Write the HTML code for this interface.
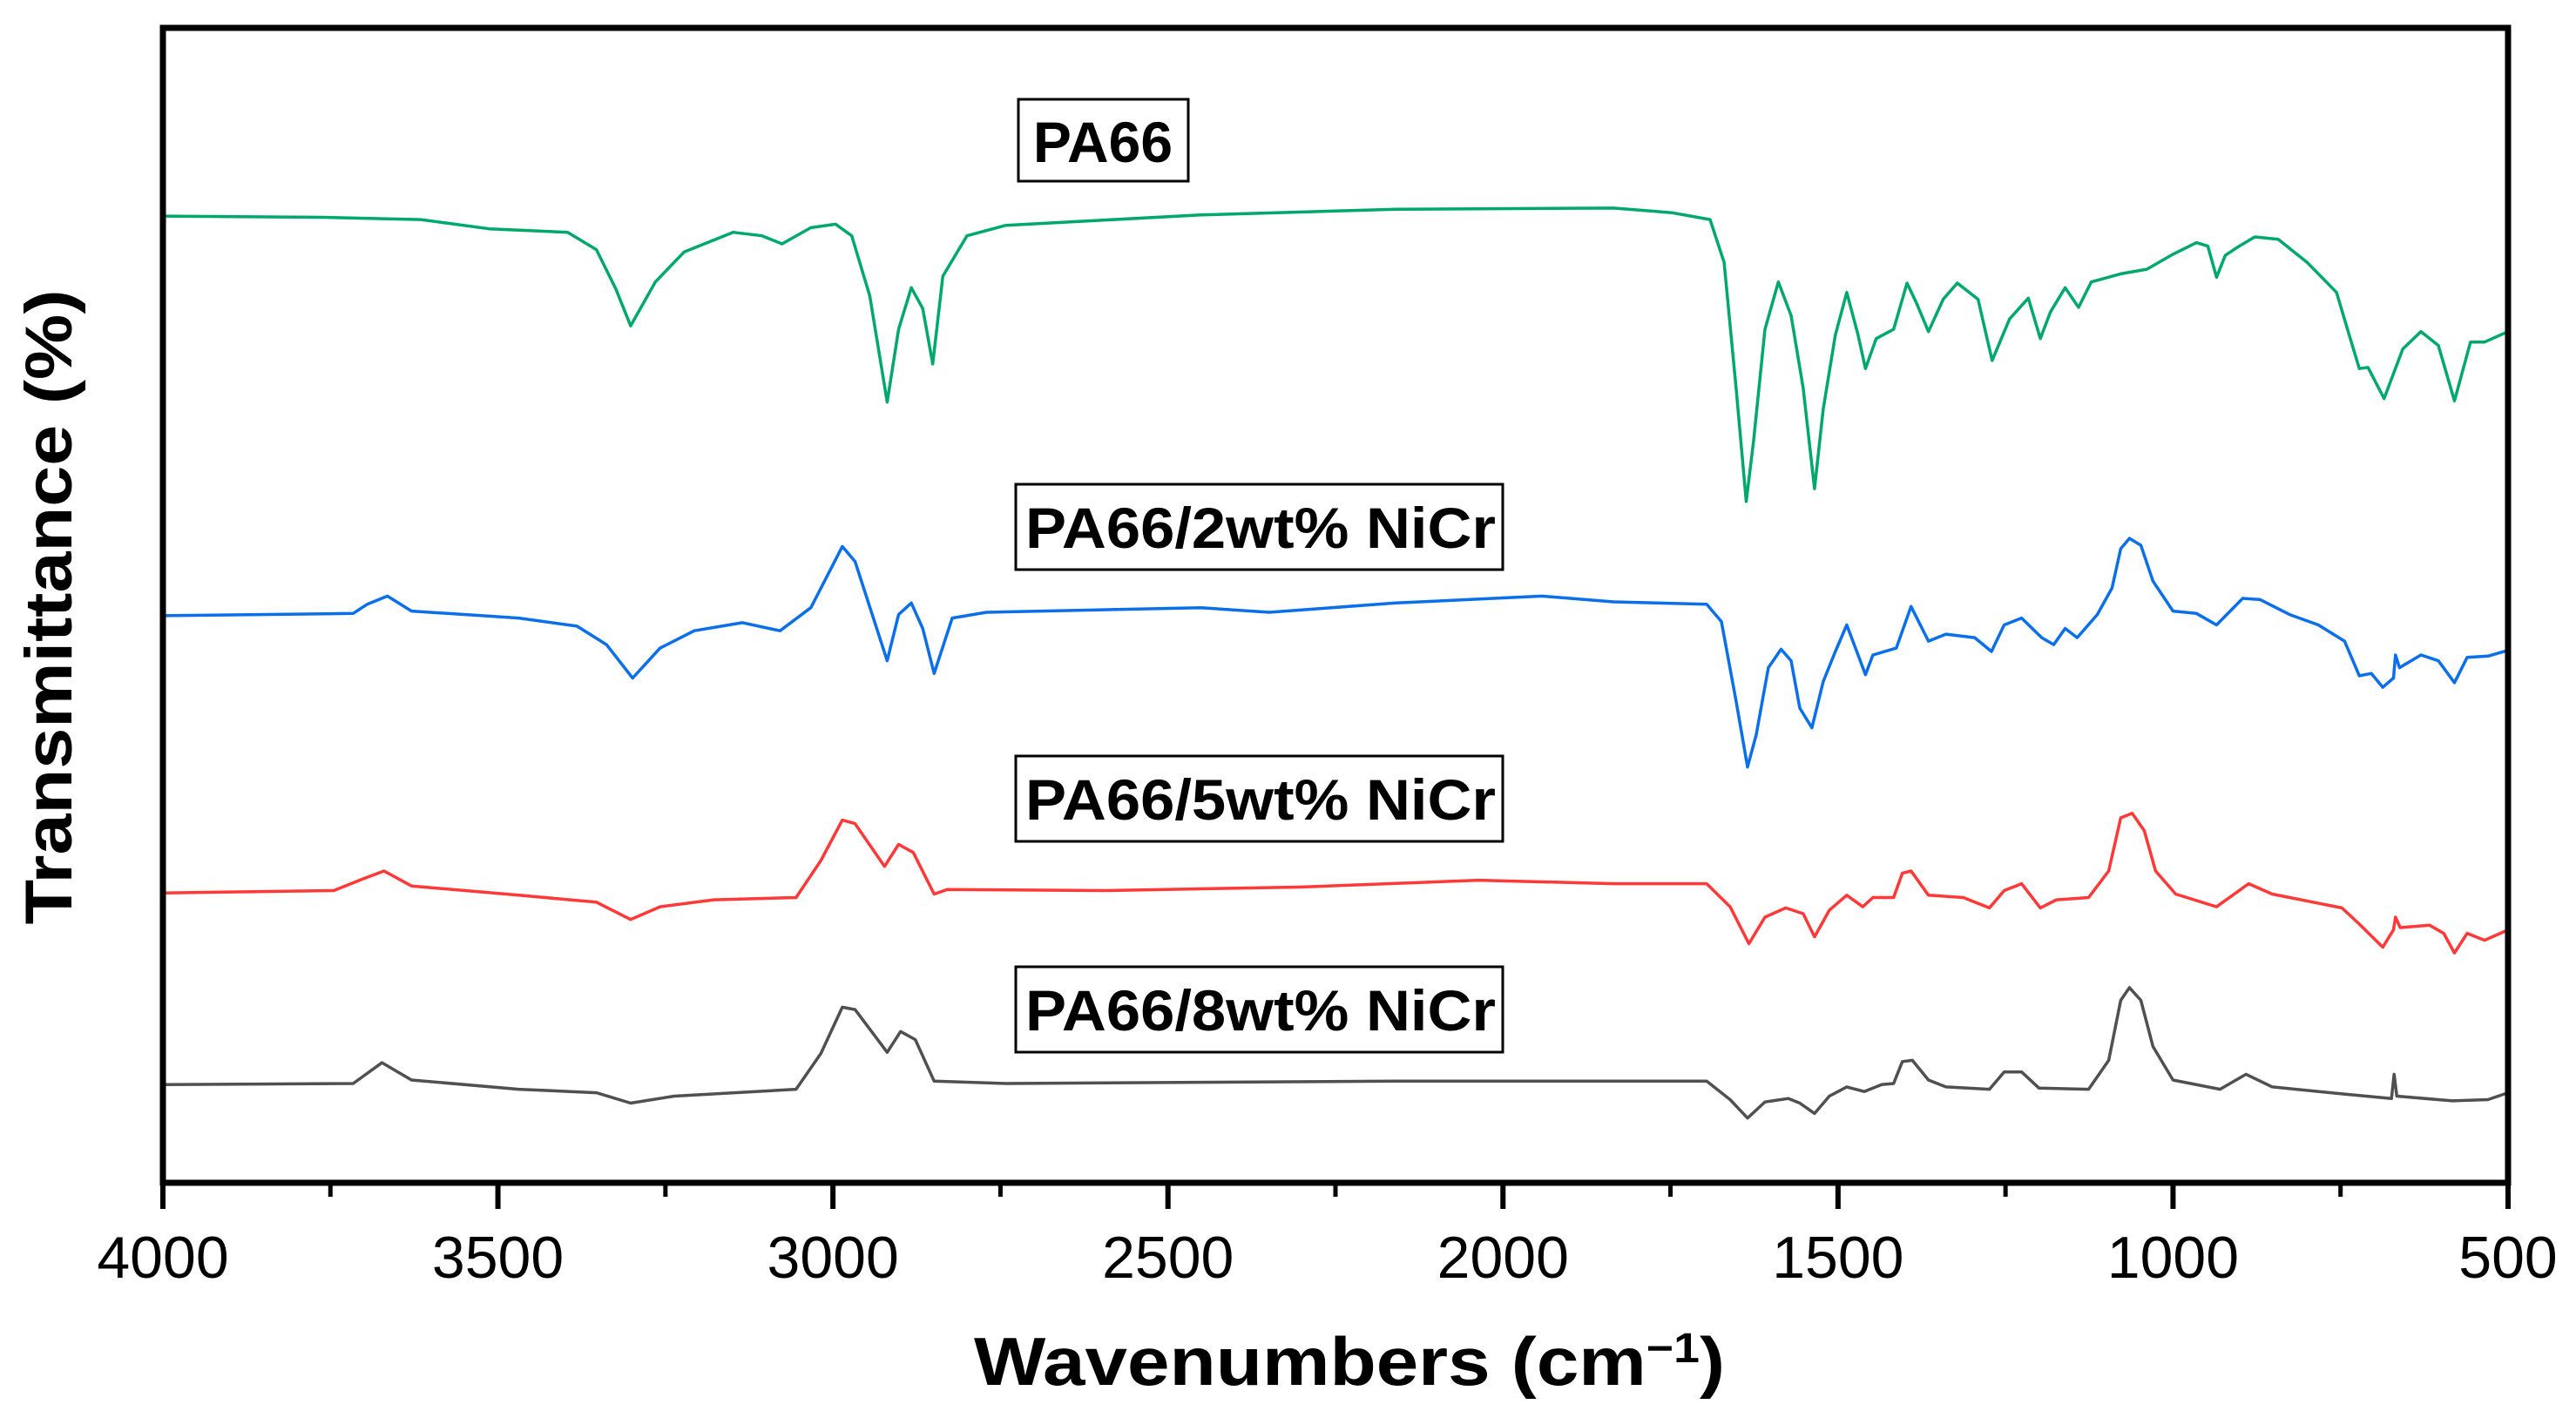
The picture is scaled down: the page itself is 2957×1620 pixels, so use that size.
<!DOCTYPE html>
<html><head><meta charset="utf-8"><style>
html,body{margin:0;padding:0;background:#fff;}
svg{display:block;}
text{font-family:"Liberation Sans",Arial,sans-serif;}
</style></head><body>
<svg id="chart" width="2957" height="1620" viewBox="0 0 2957 1620" xmlns="http://www.w3.org/2000/svg">
<rect x="0" y="0" width="2957" height="1620" fill="#fff"/>
<g id="series"></g>
<g id="axes"></g>
<g>
<rect x="1169" y="114" width="195" height="94" fill="#fff" stroke="#000" stroke-width="3"/>
<text x="1266" y="186" font-size="66" font-weight="bold" text-anchor="middle">PA66</text></g>
<g>
<rect x="1166" y="556" width="559" height="98" fill="#fff" stroke="#000" stroke-width="3"/>
<text x="1177" y="629" font-size="66" font-weight="bold" textLength="540" lengthAdjust="spacingAndGlyphs">PA66/2wt% NiCr</text></g>
<g>
<rect x="1166" y="868" width="559" height="98" fill="#fff" stroke="#000" stroke-width="3"/>
<text x="1177" y="941" font-size="66" font-weight="bold" textLength="540" lengthAdjust="spacingAndGlyphs">PA66/5wt% NiCr</text></g>
<g>
<rect x="1166" y="1110" width="559" height="98" fill="#fff" stroke="#000" stroke-width="3"/>
<text x="1177" y="1183" font-size="66" font-weight="bold" textLength="540" lengthAdjust="spacingAndGlyphs">PA66/8wt% NiCr</text></g>
<text x="1118" y="1590" font-size="78" font-weight="bold" textLength="862" lengthAdjust="spacingAndGlyphs">Wavenumbers (cm<tspan baseline-shift="super" font-size="48">−1</tspan>)</text>
<text transform="translate(82,697) rotate(-90)" font-size="76" font-weight="bold" text-anchor="middle" textLength="729" lengthAdjust="spacingAndGlyphs">Transmittance (%)</text>
</svg>
<script>
const xTicks = [4000,3500,3000,2500,2000,1500,1000,500];
const xMinorTicks = [3750,3250,2750,2250,1750,1250,750];
const wnPA66 = [4000,3760,3615,3513,3396,3353,3324,3302,3265,3222,3149,3106,3076,3033,2996,2972,2945,2919,2902,2883,2866,2851,2836,2800,2742,2451,2160,1835,1748,1691,1670,1652,1637,1626,1609,1589,1570,1552,1535,1522,1504,1487,1470,1459,1443,1417,1397,1383,1365,1343,1322,1291,1270,1244,1216,1198,1183,1161,1141,1122,1078,1039,1000,965,948,935,922,904,878,843,800,756,737,722,709,685,657,630,604,580,556,535,500];
const tPA66 = [83.7,83.6,83.4,82.6,82.3,80.8,77.4,74.2,78.0,80.6,82.3,82.0,81.3,82.7,83.0,82.0,76.8,67.6,73.9,77.5,75.7,70.9,78.5,82.0,82.9,83.8,84.3,84.4,84.0,83.4,79.7,68.8,59.0,64.2,73.9,78.0,75.1,68.8,60.1,67.0,73.4,77.1,73.4,70.5,73.1,73.9,77.9,76.2,73.7,76.5,77.9,76.5,71.2,74.8,76.6,73.1,75.4,77.5,75.8,78.0,78.7,79.1,80.4,81.4,81.1,78.4,80.3,81.0,81.9,81.7,79.7,77.1,73.4,70.5,70.6,67.9,72.2,73.7,72.5,67.7,72.8,72.8,73.7];
const wn2wt = [4000,3716,3695,3665,3629,3469,3382,3338,3299,3258,3207,3135,3079,3033,2986,2967,2919,2902,2883,2866,2849,2822,2771,2451,2349,2160,1942,1835,1696,1674,1652,1635,1622,1604,1585,1570,1557,1539,1522,1504,1487,1470,1459,1448,1413,1391,1365,1339,1296,1271,1252,1226,1196,1178,1161,1143,1113,1091,1078,1065,1048,1030,1000,965,935,896,870,826,783,744,722,704,687,671,668,662,630,604,580,561,530,500];
const t2wt = [49.1,49.3,50.1,50.8,49.5,48.9,48.2,46.6,43.7,46.3,47.8,48.5,47.8,49.8,55.1,53.8,45.2,49.2,50.2,48.0,44.1,48.9,49.4,49.8,49.4,50.2,50.8,50.3,50.1,48.6,41.7,36.0,38.8,44.6,46.2,45.2,41.1,39.4,43.4,46.0,48.3,45.7,44.0,45.7,46.3,49.9,46.9,47.5,47.2,46.0,48.3,48.9,47.2,46.6,48.0,47.2,49.2,51.5,54.9,55.8,55.2,52.1,49.5,49.3,48.3,50.6,50.5,49.2,48.3,46.9,43.9,44.1,42.9,43.7,45.7,44.6,45.7,45.2,43.3,45.5,45.6,46.1];
const wn5wt = [4000,3745,3702,3670,3629,3469,3353,3302,3258,3178,3055,3018,2986,2967,2923,2902,2880,2849,2829,2596,2305,2036,1835,1696,1661,1633,1609,1578,1552,1535,1513,1487,1463,1448,1417,1404,1391,1365,1313,1274,1252,1226,1198,1174,1126,1096,1078,1061,1043,1026,996,935,887,852,748,722,687,671,668,661,617,596,580,561,535,500];
const t5wt = [25.1,25.3,26.3,27.0,25.7,24.9,24.3,22.8,23.9,24.5,24.7,27.9,31.4,31.1,27.4,29.3,28.6,25.0,25.4,25.3,25.6,26.2,25.9,25.9,23.9,20.7,23.0,23.8,23.3,21.3,23.6,24.9,23.9,24.7,24.7,26.8,27.0,24.9,24.7,23.8,25.3,25.9,23.8,24.5,24.7,27.0,31.6,32.0,30.5,27.0,25.0,23.9,25.9,25.0,23.8,22.4,20.4,21.9,23.0,22.1,22.3,21.6,19.9,21.6,21.0,21.9];
const wn8wt = [4000,3716,3673,3629,3469,3353,3302,3237,3055,3018,2986,2967,2919,2899,2877,2849,2742,2160,1835,1696,1661,1635,1609,1574,1557,1535,1513,1487,1461,1435,1417,1404,1389,1365,1339,1274,1252,1226,1200,1126,1096,1078,1065,1048,1030,1000,930,891,852,748,674,670,666,583,530,500];
const t8wt = [8.5,8.6,10.4,8.9,8.1,7.8,6.9,7.5,8.1,11.2,15.2,15.0,11.3,13.1,12.4,8.8,8.6,8.8,8.8,8.8,7.2,5.6,7.0,7.3,6.9,6.0,7.5,8.3,7.9,8.5,8.6,10.5,10.6,8.9,8.3,8.1,9.6,9.6,8.2,8.1,10.6,15.8,16.9,15.8,11.8,8.9,8.1,9.4,8.3,7.7,7.3,9.4,7.5,7.1,7.2,7.8];

const L=187, R=2879, T=32, B=1358;
const NS='http://www.w3.org/2000/svg';
function xScale(w){ return L + (4000 - w) / 3500 * (R - L); }
function yScale(t){ return B - t / 100 * (B - T); }

const seriesG = document.getElementById('series');
const seriesList = [
  {wn: wnPA66, t: tPA66, color: '#00A86B', name: 'series-pa66'},
  {wn: wn2wt, t: t2wt, color: '#0A6FE8', name: 'series-pa66-2wt'},
  {wn: wn5wt, t: t5wt, color: '#FF3838', name: 'series-pa66-5wt'},
  {wn: wn8wt, t: t8wt, color: '#505050', name: 'series-pa66-8wt'}
];
seriesList.forEach(s => {
  const p = document.createElementNS(NS, 'path');
  let d = '';
  s.wn.forEach((w, i) => { d += (i ? 'L' : 'M') + xScale(w).toFixed(1) + ',' + yScale(s.t[i]).toFixed(1); });
  p.setAttribute('d', d);
  p.setAttribute('fill', 'none');
  p.setAttribute('stroke', s.color);
  p.setAttribute('stroke-width', '3.5');
  p.setAttribute('stroke-linejoin', 'round');
  
  
  seriesG.appendChild(p);
});

const axesG = document.getElementById('axes');
const frame = document.createElementNS(NS, 'rect');
frame.setAttribute('x', L); frame.setAttribute('y', T);
frame.setAttribute('width', R - L); frame.setAttribute('height', B - T);
frame.setAttribute('fill', 'none'); frame.setAttribute('stroke', '#000'); frame.setAttribute('stroke-width', '7');


axesG.appendChild(frame);

xTicks.forEach(w => {
  const ln = document.createElementNS(NS, 'line');
  ln.setAttribute('x1', xScale(w)); ln.setAttribute('x2', xScale(w));
  ln.setAttribute('y1', B); ln.setAttribute('y2', B + 30);
  ln.setAttribute('stroke', '#000'); ln.setAttribute('stroke-width', '6');
  
  
  axesG.appendChild(ln);
  const tx = document.createElementNS(NS, 'text');
  tx.setAttribute('x', xScale(w)); tx.setAttribute('y', 1467);
  tx.setAttribute('font-size', '68'); tx.setAttribute('text-anchor', 'middle');
  tx.textContent = w;
  
  
  axesG.appendChild(tx);
});
xMinorTicks.forEach(w => {
  const ln = document.createElementNS(NS, 'line');
  ln.setAttribute('x1', xScale(w)); ln.setAttribute('x2', xScale(w));
  ln.setAttribute('y1', B); ln.setAttribute('y2', B + 16);
  ln.setAttribute('stroke', '#000'); ln.setAttribute('stroke-width', '5');
  
  
  axesG.appendChild(ln);
});
</script>
</body></html>
